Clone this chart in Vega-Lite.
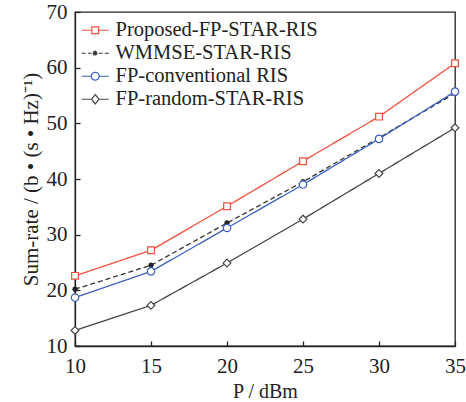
{
  "$schema": "https://vega.github.io/schema/vega-lite/v6.json",
  "width": 380,
  "height": 334,
  "autosize": "none",
  "padding": {"left": 75, "top": 12, "right": 11, "bottom": 56},
  "background": "white",
  "config": {
    "font": "Liberation Serif",
    "view": {"stroke": "#222", "strokeWidth": 1.3},
    "axis": {
      "grid": false,
      "domainColor": "#222",
      "domainWidth": 1.3,
      "tickColor": "#222",
      "tickWidth": 1.3,
      "tickSize": -5,
      "labelFont": "Liberation Serif",
      "labelFontSize": 21,
      "labelColor": "#222",
      "labelFlush": false,
      "titleFont": "Liberation Serif",
      "titleFontSize": 20,
      "titleFontWeight": "normal",
      "titleColor": "#222"
    }
  },
  "data": {
    "values": [
      {"p": 10, "rate": 22.6, "s": "Proposed-FP-STAR-RIS"},
      {"p": 15, "rate": 27.2, "s": "Proposed-FP-STAR-RIS"},
      {"p": 20, "rate": 35.1, "s": "Proposed-FP-STAR-RIS"},
      {"p": 25, "rate": 43.2, "s": "Proposed-FP-STAR-RIS"},
      {"p": 30, "rate": 51.2, "s": "Proposed-FP-STAR-RIS"},
      {"p": 35, "rate": 60.8, "s": "Proposed-FP-STAR-RIS"},
      {"p": 10, "rate": 20.2, "s": "WMMSE-STAR-RIS"},
      {"p": 15, "rate": 24.5, "s": "WMMSE-STAR-RIS"},
      {"p": 20, "rate": 32.1, "s": "WMMSE-STAR-RIS"},
      {"p": 25, "rate": 39.5, "s": "WMMSE-STAR-RIS"},
      {"p": 30, "rate": 47.4, "s": "WMMSE-STAR-RIS"},
      {"p": 35, "rate": 55.4, "s": "WMMSE-STAR-RIS"},
      {"p": 10, "rate": 18.7, "s": "FP-conventional RIS"},
      {"p": 15, "rate": 23.4, "s": "FP-conventional RIS"},
      {"p": 20, "rate": 31.2, "s": "FP-conventional RIS"},
      {"p": 25, "rate": 39.0, "s": "FP-conventional RIS"},
      {"p": 30, "rate": 47.2, "s": "FP-conventional RIS"},
      {"p": 35, "rate": 55.7, "s": "FP-conventional RIS"},
      {"p": 10, "rate": 12.8, "s": "FP-random-STAR-RIS"},
      {"p": 15, "rate": 17.3, "s": "FP-random-STAR-RIS"},
      {"p": 20, "rate": 24.9, "s": "FP-random-STAR-RIS"},
      {"p": 25, "rate": 32.8, "s": "FP-random-STAR-RIS"},
      {"p": 30, "rate": 41.0, "s": "FP-random-STAR-RIS"},
      {"p": 35, "rate": 49.2, "s": "FP-random-STAR-RIS"}
    ]
  },
  "encoding": {
    "x": {
      "field": "p", "type": "quantitative",
      "scale": {"domain": [10, 35], "nice": false},
      "axis": {"values": [10, 15, 20, 25, 30, 35], "title": "P / dBm", "labelPadding": 14, "titlePadding": 5, "titleFontSize": 20}
    },
    "y": {
      "field": "rate", "type": "quantitative",
      "scale": {"domain": [10, 70], "nice": false},
      "axis": {"values": [10, 20, 30, 40, 50, 60, 70], "title": "Sum-rate / (b • (s • Hz)⁻¹)", "labelPadding": 13, "titlePadding": 5, "titleFontSize": 21}
    }
  },
  "layer": [
    {
      "mark": {"type": "line", "strokeWidth": 1.3},
      "encoding": {
        "strokeDash": {
          "field": "s", "type": "nominal",
          "scale": {
            "domain": ["Proposed-FP-STAR-RIS", "WMMSE-STAR-RIS", "FP-conventional RIS", "FP-random-STAR-RIS"],
            "range": [[1, 0], [5, 3], [1, 0], [1, 0]]
          },
          "legend": null
        },
        "color": {
          "field": "s", "type": "nominal",
          "scale": {
            "domain": ["Proposed-FP-STAR-RIS", "WMMSE-STAR-RIS", "FP-conventional RIS", "FP-random-STAR-RIS"],
            "range": ["#f0503c", "#333333", "#3a5fc0", "#444444"]
          },
          "legend": {
            "title": null,
            "orient": "none",
            "legendX": 10,
            "legendY": 8,
            "padding": 0,
            "labelFont": "Liberation Serif",
            "labelFontSize": 20.5,
            "labelColor": "#222",
            "labelOffset": 10,
            "labelLimit": 400,
            "rowPadding": 2,
            "symbolSize": 300,
            "symbolStrokeWidth": 1.2,
            "encode": {
              "symbols": {
                "update": {
                  "shape": {"signal": "datum.value === 'Proposed-FP-STAR-RIS' ? 'M-1.56,0H-0.4M0.4,0H1.56M-0.4,-0.4H0.4V0.4H-0.4Z' : datum.value === 'WMMSE-STAR-RIS' ? 'M-1.56,0H-1.1M-0.85,0H-0.4M0.4,0H0.85M1.1,0H1.56M-0.32,0H0.32M0,-0.32V0.32M-0.23,-0.23L0.23,0.23M-0.23,0.23L0.23,-0.23' : datum.value === 'FP-conventional RIS' ? 'M-1.56,0H-0.45M0.45,0H1.56M-0.45,0A0.45,0.45 0 1,0 0.45,0A0.45,0.45 0 1,0 -0.45,0' : 'M-1.56,0H-0.42M0.42,0H1.56M-0.42,0L0,-0.55L0.42,0L0,0.55Z'"},
                  "fill": {"value": "transparent"},
                  "strokeDash": {"value": [1, 0]},
                  "opacity": {"value": 1}
                }
              }
            }
          }
        }
      }
    },
    {
      "transform": [{"filter": "datum.s === 'Proposed-FP-STAR-RIS'"}],
      "mark": {"type": "point", "shape": "square", "filled": false, "fill": "white", "stroke": "#f0503c", "strokeWidth": 1.2, "size": 45, "opacity": 1}
    },
    {
      "transform": [{"filter": "datum.s === 'WMMSE-STAR-RIS'"}],
      "mark": {"type": "point", "shape": "M-1,0H1M0,-1V1M-0.7,-0.7L0.7,0.7M-0.7,0.7L0.7,-0.7", "filled": false, "stroke": "#222222", "strokeWidth": 1.5, "size": 30, "opacity": 1}
    },
    {
      "transform": [{"filter": "datum.s === 'FP-conventional RIS'"}],
      "mark": {"type": "point", "shape": "circle", "filled": false, "fill": "white", "stroke": "#3a5fc0", "strokeWidth": 1.2, "size": 55, "opacity": 1}
    },
    {
      "transform": [{"filter": "datum.s === 'FP-random-STAR-RIS'"}],
      "mark": {"type": "point", "shape": "diamond", "filled": false, "fill": "white", "stroke": "#444444", "strokeWidth": 1.2, "size": 60, "opacity": 1}
    }
  ]
}
